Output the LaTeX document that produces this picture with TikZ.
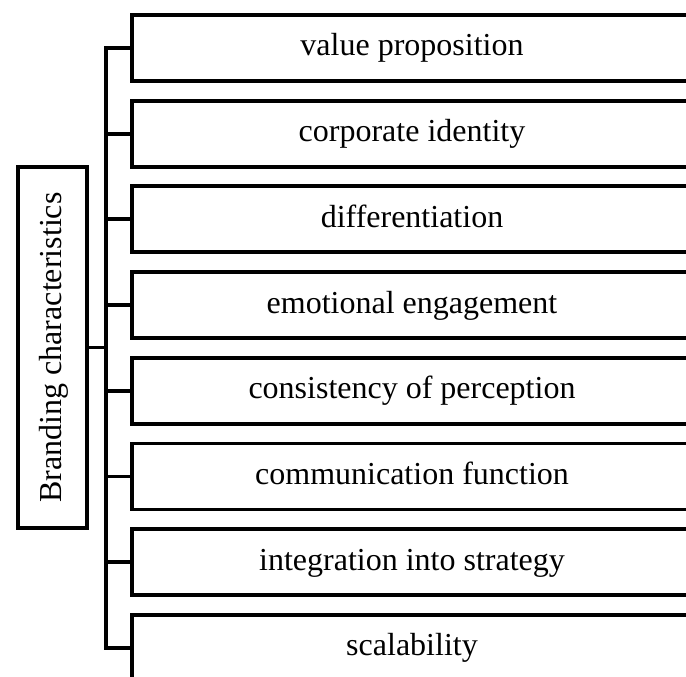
\documentclass[tikz,border=0pt]{standalone}
\usepackage{fontspec}
\setmainfont{Liberation Serif}

\begin{document}
\begin{tikzpicture}[x=0.75pt,y=-0.75pt,
    line width=2.9pt,
    feature/.style={draw, minimum width=420pt, minimum height=49.5pt, inner sep=0pt,
      text height=18pt, text depth=6pt, font=\fontsize{24pt}{28pt}\selectfont},
    head/.style={draw, rotate=90, minimum width=270.75pt, minimum height=51.75pt, inner sep=0pt,
      text height=18pt, text depth=5pt, font=\fontsize{24pt}{28pt}\selectfont}]
  \useasboundingbox (0,0) rectangle (686,677);
  \clip (0,0) rectangle (686,677);

  \node [head] (root) at (52.5,347.5) {Branding characteristics};

  \foreach \txt [count=\i] in {value proposition, corporate identity, differentiation,
      emotional engagement, consistency of perception, communication function,
      integration into strategy, scalability}
    \node [feature] (b\i) at (412,48+85.7*\i-85.7) {\txt};

  % trunk with branches
  \draw (b1.west) -- ++(-24,0) coordinate (top) -- (top |- b8.west) -- (b8.west);
  \foreach \i in {2,...,7}
    \draw (b\i.west) -- (b\i.west -| top);
  \draw (root.south) -- (root.south -| top);
\end{tikzpicture}
\end{document}
